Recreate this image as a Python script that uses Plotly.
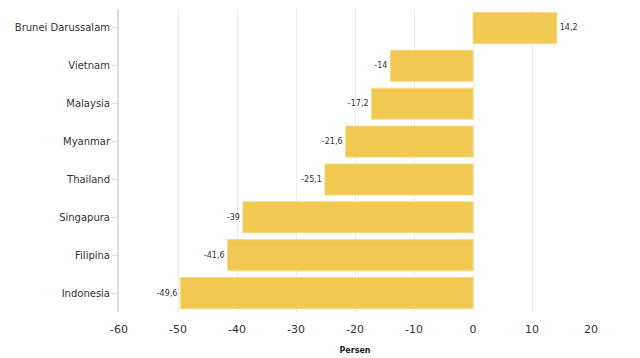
import plotly.graph_objects as go

countries = ["Brunei Darussalam", "Vietnam", "Malaysia", "Myanmar", "Thailand", "Singapura", "Filipina", "Indonesia"]
values = [14.2, -14, -17.2, -21.6, -25.1, -39, -41.6, -49.6]
labels = ["14,2", "-14", "-17,2", "-21,6", "-25,1", "-39", "-41,6", "-49,6"]
x_ticks = [-60, -50, -40, -30, -20, -10, 0, 10, 20]

fig = go.Figure(go.Bar(
    x=values, y=countries, orientation="h",
    marker=dict(color="#F1C952", line=dict(color="#F6DA85", width=1)),
    text=labels, textposition="outside", cliponaxis=False,
    textfont=dict(size=8, color="#333333", family="DejaVu Sans"),
    width=0.82,
))

fig.update_layout(
    width=632, height=350,
    margin=dict(l=111, r=49, t=1, b=46, autoexpand=False),
    paper_bgcolor="white", plot_bgcolor="white",
    font=dict(family="DejaVu Sans", color="#333333"),
    showlegend=False,
    bargap=0.18,
)
fig.update_xaxes(
    range=[-60, 20], tickvals=x_ticks, ticktext=[str(v) for v in x_ticks],
    showgrid=True, gridcolor="#EBEBEB", gridwidth=1, zeroline=False,
    tickfont=dict(size=11, color="#333333"), ticklabelstandoff=9,
    title=dict(text="<b>Persen</b>", font=dict(size=8, color="#222222"), standoff=12),
    showline=False, ticks="", automargin=False,
)
fig.update_yaxes(
    categoryorder="array", categoryarray=countries[::-1],
    showline=True, linecolor="#E0E0E0", linewidth=2,
    ticks="outside", ticklen=5, tickcolor="#E0E0E0",
    tickfont=dict(size=10, color="#333333"),
    showgrid=False, automargin=False,
)
fig.write_html("out.html")
